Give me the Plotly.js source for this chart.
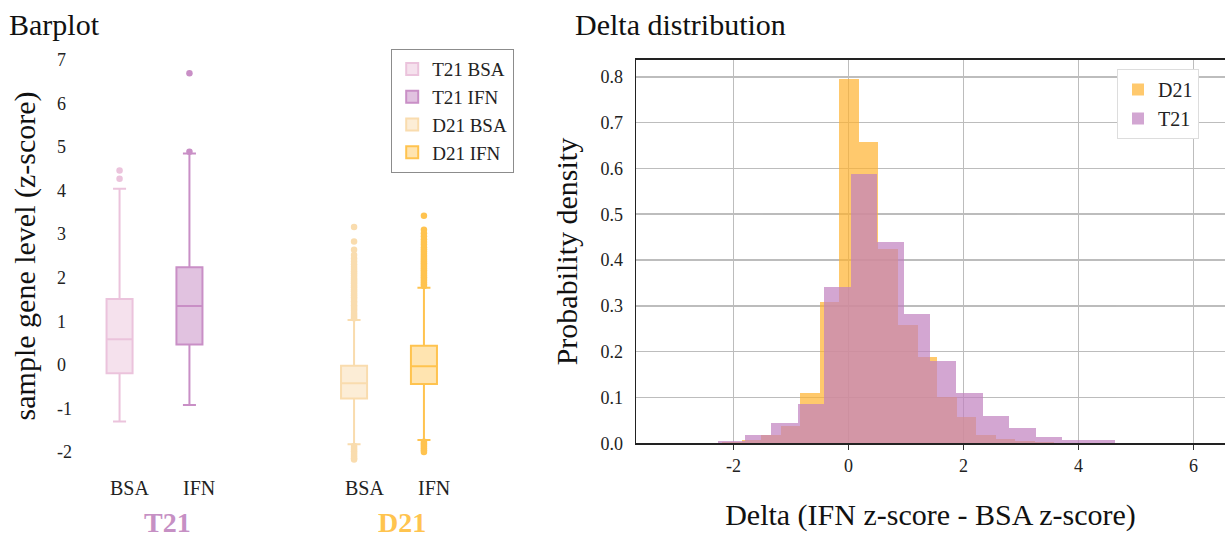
<!DOCTYPE html>
<html><head><meta charset="utf-8">
<script src="https://cdn.plot.ly/plotly-3.0.1.min.js"></script>
<style>html,body{margin:0;padding:0;background:#fff;} #chart{width:1225px;height:538px;}</style>
</head><body><div id="chart"></div>
<script>
// ---------- Left panel: box statistics ----------
const boxNames  = ['T21 BSA', 'T21 IFN', 'D21 BSA', 'D21 IFN'];
const boxGroups = ['T21', 'T21', 'D21', 'D21'];
const boxConds  = ['BSA', 'IFN', 'BSA', 'IFN'];
const boxQ1     = [-0.19, 0.47, -0.77, -0.44];
const boxMedian = [0.59, 1.35, -0.42, -0.03];
const boxQ3     = [1.51, 2.24, -0.02, 0.44];
const boxLower  = [-1.30, -0.92, -1.82, -1.72];
const boxUpper  = [4.04, 4.85, 1.03, 1.77];
const outT21BSA = [4.27, 4.46];
const outT21IFN = [4.89, 6.69];
const outD21BSA = [1.07, 1.11, 1.15, 1.19, 1.24, 1.28, 1.33, 1.37, 1.42, 1.46, 1.51, 1.55,
                   1.60, 1.64, 1.69, 1.73, 1.78, 1.82, 1.87, 1.91, 1.96, 2.00, 2.05, 2.10,
                   2.15, 2.20, 2.25, 2.31, 2.37, 2.44, 2.52, 2.64, 2.83, 3.16,
                   -1.86, -1.90, -1.94, -1.98, -2.02, -2.06, -2.10, -2.14, -2.17];
const outD21IFN = [1.81, 1.85, 1.89, 1.93, 1.97, 2.01, 2.05, 2.09, 2.13, 2.17, 2.21, 2.25,
                   2.29, 2.33, 2.37, 2.41, 2.45, 2.50, 2.55, 2.60, 2.65, 2.70, 2.76, 2.82,
                   2.88, 2.95, 3.02, 3.10, 3.42,
                   -1.76, -1.80, -1.84, -1.88, -1.92, -1.96, -2.00];
const groupLabels = ['T21', 'D21'];
const condLabels  = ['BSA', 'IFN'];
const yTicksLeft  = [-2, -1, 0, 1, 2, 3, 4, 5, 6, 7];
const yTickTextLeft = ['-2', '-1', '0', '1', '2', '3', '4', '5', '6', '7'];

// ---------- Right panel: histogram densities ----------
const histSeries   = ['D21', 'T21'];
const d21BinStart  = -2.2;
const d21BinWidth  = 0.34;
const d21Density   = [0.003, 0.006, 0.017, 0.037, 0.109, 0.308, 0.795, 0.658, 0.423,
                      0.258, 0.189, 0.101, 0.057, 0.017, 0.010, 0.005, 0.002, 0.001];
const t21BinStart  = -2.262;
const t21BinWidth  = 0.46;
const t21Density   = [0.005, 0.017, 0.044, 0.086, 0.340, 0.588, 0.439, 0.282, 0.179,
                      0.109, 0.060, 0.0325, 0.013, 0.006, 0.006];
const xTicksRight  = [-2, 0, 2, 4, 6];
const xTickTextRight = ['-2', '0', '2', '4', '6'];
const yTicksRight  = [0, 0.1, 0.2, 0.3, 0.4, 0.5, 0.6, 0.7, 0.8];
const yTickTextRight = ['0.0', '0.1', '0.2', '0.3', '0.4', '0.5', '0.6', '0.7', '0.8'];

// ---------- styles / layout constants ----------
const W = 1225, H = 538;
const FONT = 'Liberation Serif, Times New Roman, serif';
const groupPos = {T21: 0, D21: 1};
const condOffset = {BSA: -0.149, IFN: 0.149};
const boxLine = {'T21 BSA': '#EBC3DC', 'T21 IFN': '#C98FC6', 'D21 BSA': '#F9DCAE', 'D21 IFN': '#FFC34F'};
const boxFill = {'T21 BSA': 'rgba(235,195,220,0.5)', 'T21 IFN': 'rgba(201,143,198,0.55)',
                 'D21 BSA': 'rgba(249,220,174,0.5)', 'D21 IFN': 'rgba(255,195,79,0.45)'};
const groupColor = {T21: '#C690C4', D21: '#FFC44F'};
const histColor = {D21: '#FFB330', T21: '#C081BF'};
const outliers = {'T21 BSA': outT21BSA, 'T21 IFN': outT21IFN, 'D21 BSA': outD21BSA, 'D21 IFN': outD21IFN};

const px2x = p => p / W;
const px2y = p => 1 - p / H;

const traces = [];
boxNames.forEach((name, i) => {
  const xp = groupPos[boxGroups[i]] + condOffset[boxConds[i]];
  traces.push({
    type: 'box', name: name, x: [xp],
    q1: [boxQ1[i]], median: [boxMedian[i]], q3: [boxQ3[i]],
    lowerfence: [boxLower[i]], upperfence: [boxUpper[i]],
    width: 0.111, whiskerwidth: 0.5, boxpoints: false,
    line: {color: boxLine[name], width: 2}, fillcolor: boxFill[name],
    xaxis: 'x', yaxis: 'y', legend: 'legend', hoverinfo: 'skip'
  });
});
boxNames.forEach((name, i) => {
  const xp = groupPos[boxGroups[i]] + condOffset[boxConds[i]];
  const ys = outliers[name];
  traces.push({
    type: 'scatter', mode: 'markers', x: ys.map(() => xp), y: ys,
    marker: {color: boxLine[name], size: 6.5, line: {width: 0}},
    xaxis: 'x', yaxis: 'y', showlegend: false, hoverinfo: 'skip'
  });
});

const histData = {D21: [d21BinStart, d21BinWidth, d21Density], T21: [t21BinStart, t21BinWidth, t21Density]};
histSeries.forEach(s => {
  const [start, w, dens] = histData[s];
  traces.push({
    type: 'bar', name: s,
    x: dens.map((_, k) => start + (k + 0.5) * w), y: dens, width: dens.map(() => w),
    marker: {color: histColor[s], line: {width: 0}}, opacity: 0.7,
    xaxis: 'x2', yaxis: 'y2', legend: 'legend2', hoverinfo: 'skip'
  });
});

const annotations = [
  {text: 'Barplot', x: px2x(7), y: px2y(25), xref: 'paper', yref: 'paper', xanchor: 'left', yanchor: 'middle',
   showarrow: false, font: {family: FONT, size: 30, color: '#111'}},
  {text: 'Delta distribution', x: px2x(573), y: px2y(25), xref: 'paper', yref: 'paper', xanchor: 'left', yanchor: 'middle',
   showarrow: false, font: {family: FONT, size: 30, color: '#111'}}
];
groupLabels.forEach(g => {
  annotations.push({text: '<b>' + g + '</b>', x: groupPos[g], xref: 'x', y: px2y(522), yref: 'paper',
    xshift: 13, yanchor: 'middle', showarrow: false, font: {family: FONT, size: 28, color: groupColor[g]}});
  condLabels.forEach(c => {
    annotations.push({text: c, x: groupPos[g] + condOffset[c], xref: 'x', y: px2y(488), yref: 'paper',
      xshift: 10, yanchor: 'middle', showarrow: false, font: {family: FONT, size: 20, color: '#222'}});
  });
});

const leftX0 = 54, leftX1 = 560, t21Center = 154.5, pxPerGroup = 234.5;
const layout = {
  width: W, height: H, margin: {l: 0, r: 0, t: 0, b: 0},
  paper_bgcolor: '#fff', plot_bgcolor: 'rgba(0,0,0,0)',
  font: {family: FONT, color: '#222'},
  barmode: 'overlay', bargap: 0,
  showlegend: true,
  xaxis: {domain: [px2x(leftX0), px2x(leftX1)], anchor: 'y',
          range: [(leftX0 - t21Center) / pxPerGroup, (leftX1 - t21Center) / pxPerGroup],
          showgrid: false, zeroline: false, showline: false, showticklabels: false, ticks: ''},
  yaxis: {domain: [px2y(473.9), px2y(37.9)], anchor: 'x', range: [-2.5, 7.5],
          tickvals: yTicksLeft, ticktext: yTickTextLeft, ticks: '', ticklabelposition: 'inside',
          showgrid: false, zeroline: false, showline: false,
          tickfont: {family: FONT, size: 18, color: '#222'},
          title: {text: 'sample gene level (z-score)', font: {family: FONT, size: 30, color: '#111'}, standoff: 12}},
  xaxis2: {domain: [px2x(636), 1], anchor: 'y2', range: [-3.696, 6.548],
           tickvals: xTicksRight, ticktext: xTickTextRight, ticks: 'outside', ticklen: 5, tickcolor: '#333', tickwidth: 1,
           showline: true, linecolor: '#222', linewidth: 2, mirror: true,
           showgrid: true, gridcolor: '#bdbdbd', gridwidth: 1.7, zeroline: false,
           tickfont: {family: FONT, size: 18, color: '#222'},
           title: {text: 'Delta (IFN z-score - BSA z-score)', font: {family: FONT, size: 30, color: '#111'}, standoff: 29}},
  yaxis2: {domain: [px2y(443.2), px2y(60)], anchor: 'x2', range: [0, 0.8367],
           tickvals: yTicksRight, ticktext: yTickTextRight, ticks: '', ticklabelstandoff: 8,
           showline: true, linecolor: '#222', linewidth: 1.5,
           showgrid: true, gridcolor: '#bdbdbd', gridwidth: 1.7, zeroline: false,
           tickfont: {family: FONT, size: 18, color: '#222'},
           title: {text: 'Probability density', font: {family: FONT, size: 30, color: '#111'}, standoff: 14}},
  legend: {x: px2x(391), y: px2y(49), xanchor: 'left', yanchor: 'top',
           bgcolor: '#fff', bordercolor: '#8c8c8c', borderwidth: 1.2,
           font: {family: FONT, size: 19, color: '#222'}, tracegroupgap: 0, traceorder: 'normal'},
  legend2: {x: px2x(1117), y: px2y(69), xanchor: 'left', yanchor: 'top',
            bgcolor: '#fff', bordercolor: '#dddddd', borderwidth: 1,
            font: {family: FONT, size: 20, color: '#222'}, traceorder: 'normal'},
  annotations: annotations
};

Plotly.newPlot('chart', traces, layout, {displayModeBar: false, staticPlot: true});
</script>
</body></html>
